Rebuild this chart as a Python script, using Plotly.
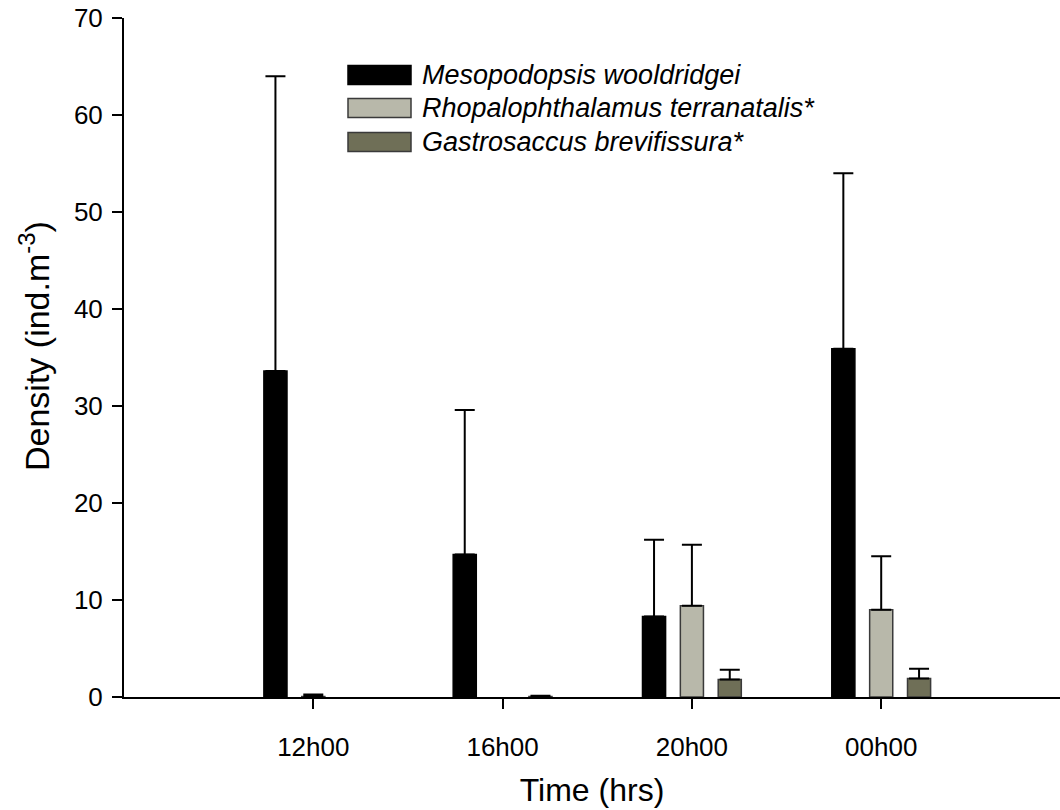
import plotly.graph_objects as go

# ---- data ----
times = ["12h00", "16h00", "20h00", "00h00"]
series_names = ["Mesopodopsis wooldridgei", "Rhopalophthalamus terranatalis*", "Gastrosaccus brevifissura*"]
meso_mean = [33.6, 14.7, 8.3, 35.9]
meso_err = [30.4, 14.9, 7.9, 18.1]
rhopa_mean = [0.05, None, 9.4, 9.0]   # None: zero density, nothing drawn
rhopa_err = [0.2, None, 6.3, 5.5]
gastro_mean = [None, 0.05, 1.8, 1.9]
gastro_err = [None, 0.08, 1.0, 1.0]
y_ticks = [0, 10, 20, 30, 40, 50, 60, 70]

colors = ["#000000", "#b8b8aa", "#6f6f57"]
outlines = ["#000000", "#3a3a3a", "#3a3a3a"]

FONT = "Liberation Sans, Arial, sans-serif"

L, R, T, B = 124, 0, 18, 113
W, H = 1060, 810
plot_w = W - L - R
plot_h = H - T - B

pos = [i + 1 for i in range(len(times))]
bar_w = 0.122
shifts = [-0.2, 0.0, 0.2]

fig = go.Figure()
for name, mean, err, col, oc, sh in zip(series_names,
                                         [meso_mean, rhopa_mean, gastro_mean],
                                         [meso_err, rhopa_err, gastro_err],
                                         colors, outlines, shifts):
    fig.add_trace(go.Bar(
        x=pos, y=mean, name=name, width=bar_w, offset=sh - bar_w / 2,
        marker=dict(color=col, line=dict(color=oc, width=1.5)),
        error_y=dict(type="data", symmetric=False, array=err,
                     arrayminus=[0] * len(err),
                     color="#000000", thickness=2, width=10),
        showlegend=False,
    ))

# manual legend (large swatches as in the reference)
leg_x0, leg_x1, leg_text_x = 348, 411, 420
leg_rows = [75, 108, 142]
box_h = 19
def px_x(px):
    return (px - L) / plot_w
def px_y(py):
    return (H - B - py) / plot_h

shapes = []
annotations = []
for name, col, oc, cy in zip(series_names, colors, outlines, leg_rows):
    shapes.append(dict(type="rect", xref="paper", yref="paper",
                       x0=px_x(leg_x0), x1=px_x(leg_x1),
                       y0=px_y(cy + box_h / 2), y1=px_y(cy - box_h / 2),
                       fillcolor=col, line=dict(color=oc, width=1.5)))
    annotations.append(dict(xref="paper", yref="paper", x=px_x(leg_text_x), y=px_y(cy),
                            xanchor="left", yanchor="middle", showarrow=False,
                            text="<i>%s</i>" % name,
                            font=dict(family=FONT, size=27, color="#000000")))

# y-axis title placed as in the reference
annotations.append(dict(xref="paper", yref="paper", x=px_x(35), y=px_y(346),
                        xanchor="center", yanchor="middle", showarrow=False, textangle=-90,
                        text="Density (ind.m<sup>-3</sup>)",
                        font=dict(family=FONT, size=34, color="#000000")))

fig.update_layout(
    width=W, height=H,
    margin=dict(l=L, r=R, t=T, b=B, pad=0),
    paper_bgcolor="white", plot_bgcolor="white",
    barmode="overlay",
    font=dict(family=FONT, color="#000000"),
    shapes=shapes, annotations=annotations,
    xaxis=dict(
        range=[0, plot_w / 189.3], tickmode="array", tickvals=pos, ticktext=times,
        showline=True, linecolor="#000000", linewidth=2,
        ticks="outside", ticklen=10, tickwidth=2, tickcolor="#000000",
        showgrid=False, zeroline=False,
        tickfont=dict(family=FONT, size=26), ticklabelstandoff=16,
        title=dict(text="Time (hrs)", font=dict(family=FONT, size=32), standoff=17),
    ),
    yaxis=dict(
        range=[0, 70], tickmode="array", tickvals=y_ticks,
        showline=True, linecolor="#000000", linewidth=2,
        ticks="outside", ticklen=10, tickwidth=2, tickcolor="#000000",
        showgrid=False, zeroline=False,
        tickfont=dict(family=FONT, size=26), ticklabelstandoff=4,
    ),
)

fig.write_html("out.html")
